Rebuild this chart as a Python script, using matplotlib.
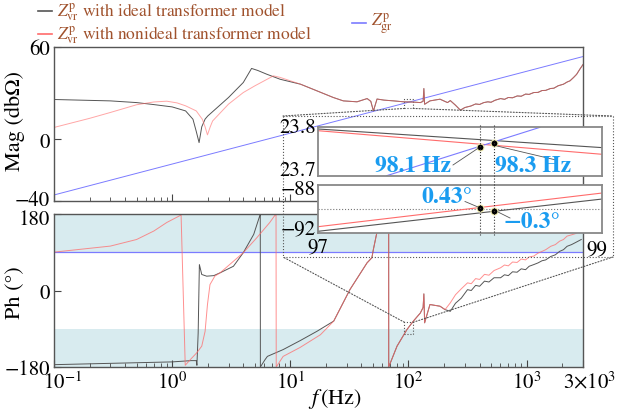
import matplotlib
matplotlib.use("Agg")
import matplotlib.pyplot as plt
import matplotlib.transforms as mtransforms
from matplotlib.patches import Rectangle, ConnectionPatch
from matplotlib.lines import Line2D

plt.rcParams['font.family'] = ['STIXGeneral', 'Liberation Serif', 'DejaVu Serif']
plt.rcParams['mathtext.fontset'] = 'stix'
plt.rcParams['axes.unicode_minus'] = True

W, H = 618, 414

# ---- magnitude, Zvr with ideal transformer (black) ----
f_mag_ideal = [0.1, 0.3, 0.5, 0.7, 1.0, 1.3, 1.5, 1.6, 1.69, 1.78, 1.9, 2.0, 3.0, 4.0, 4.7,
               5.3, 6.3, 8.2, 12.2, 16.8, 23.1, 28.1, 36.7, 44.7, 48, 50.5, 54.2, 62, 75, 91,
               111, 126, 133, 135, 137, 152, 185, 214, 226, 250, 275]
mag_ideal = [25.7, 24.8, 23.7, 22.4, 20.9, 18.3, 12.9, 5.0, -2.2, 8.0, 13.0, 15.0, 27.0, 36.7, 45.8,
             44.5, 42.1, 38.8, 35.6, 31.3, 27.0, 24.8, 24.2, 26.3, 24.5, 18.3, 26.0, 25.3, 24.8, 24.2,
             24.0, 23.7, 24.5, 32.8, 22.6, 24.8, 25.9, 23.7, 25.0, 22.0, 18.8]

# ---- magnitude, Zvr with nonideal transformer (red) ----
f_mag_non = [0.1, 0.2, 0.3, 0.5, 0.7, 0.9, 1.1, 1.3, 1.6, 1.8, 1.9, 1.99, 2.1, 2.2, 3.0, 4.0,
             5.0, 7.2, 8.2, 12.2, 16.8, 23.1, 28.1, 36.7, 44.7, 48, 50.5, 54.2, 62, 75, 91,
             111, 126, 133, 135, 137, 152, 185, 214, 226, 250, 275]
mag_non = [7.6, 13.5, 17.3, 22.3, 24.1, 24.6, 23.5, 21.6, 18.3, 12.9, 8.0, 2.8, 8.0, 11.8, 22.7, 30.2,
           34.5, 41.0, 40.0, 35.6, 31.3, 27.0, 24.8, 24.2, 26.3, 24.5, 18.3, 26.0, 25.3, 24.8, 24.2,
           24.0, 23.7, 24.5, 32.8, 22.6, 24.8, 25.9, 23.7, 25.0, 22.0, 18.8]

# common high-frequency tail (both curves overlap)
f_mag_tail = [300, 338, 370, 400, 434, 470, 500, 540, 602, 650, 700, 760, 833, 900, 980, 1050,
              1150, 1250, 1350, 1450, 1590, 1700, 1850, 2050, 2200, 2330, 2500, 2650, 2820, 3000]
mag_tail = [20.5, 21.5, 22.8, 22.5, 23.7, 24.2, 23.9, 25.2, 26.3, 25.8, 27.0, 26.8, 28.0, 27.8,
            29.2, 29.0, 30.2, 30.3, 31.5, 31.6, 32.8, 33.0, 34.6, 35.6, 37.0, 37.8, 40.0, 42.0,
            45.3, 48.3]

# ---- grid impedance Zgr (blue) ----
f_gr = [0.1, 3000]
mag_gr = [-36.1, 53.5]
ph_gr = [90, 90]

# ---- phase, ideal (black) ----
f_ph_ideal = [0.1, 1.0, 1.45, 1.6, 1.62, 1.66, 1.70, 1.78, 1.96, 2.25, 2.55, 3.3, 4.0, 4.9, 5.5,
              5.57, 5.58, 6.1, 6.4, 8.7, 12.1, 16.8, 23.3, 32, 44.6, 49, 50.5, 54, 57, 58.5, 68,
              68.05, 80, 97, 110, 126, 133, 135, 137, 152, 185, 204, 226, 250, 280, 316, 340,
              370, 400, 440, 480, 530, 602, 650, 700, 760, 830, 900, 980, 1050, 1150, 1250,
              1350, 1450, 1600, 1750, 1900, 2050, 2200, 2400, 2600, 2900]
ph_ideal = [-174.5, -168, -165, -165, -176, -100, 61, 37.7, 33.7, 35, 41.7, 57, 89, 132, 175,
            178, -180, -163, -155, -139, -118, -96, -72, 2.4, 65, 77, 97, 136, 140, 136, 179,
            -180, -131, -92, -72, -53, -40, -8, -76, -33, -37, -45, -49, -30, -18, 2, 0,
            12, 10, 22, 20, 30, 30, 37, 35, 44, 43, 51, 49, 57, 61, 65,
            70, 72, 80, 84, 92, 96, 104, 108, 113, 120]

# ---- phase, nonideal (red) ----
f_ph_non = [0.1, 0.3, 0.5, 0.7, 0.9, 1.19, 1.29, 1.42, 1.61, 1.78, 1.9, 1.99, 2.09, 2.3, 2.55,
            4.0, 5.2, 6.7, 7.5, 7.57, 7.6, 8.7, 12.1, 18, 23.3, 32, 44.6, 49, 50.5, 54, 57, 58.5,
            68, 68.05, 80, 97, 110, 126, 133, 135, 137, 152, 185, 204, 226, 250, 280, 316, 340,
            370, 400, 440, 480, 530, 602, 650, 700, 760, 830, 900, 980, 1050, 1150, 1250,
            1350, 1450, 1600, 1750, 1900, 2050, 2200, 2400, 2600, 2820, 3000]
ph_non = [90.3, 104.5, 120, 140, 160, 177.6, -176, -163, -147, -131, -96, -33, 14, 34, 41.7,
          89, 124, 160, 179, 180, -180, -155, -134, -104, -72, 2.4, 65, 77, 97, 136, 140, 136,
          179, -180, -131, -92, -72, -53, -40, -8, -76, -33, -37, -45, -29, -10, 4, 18, 16,
          28, 26, 38, 36, 47, 53.5, 60, 58, 67, 66, 74, 72, 79, 81, 88,
          92, 96, 104, 108, 116, 120, 128, 131, 134, 140, 150]

# ---- zoomed insets around 98 Hz ----
f_in = [97, 99]
in_mag_ideal = [23.7965, 23.758]
in_mag_non = [23.793, 23.7442]
f_in_gr = [97.483, 98.562]
in_mag_gr = [23.70, 23.80]
in_ph_ideal = [-91.858, -89.167]
in_ph_non = [-91.475, -88.667]
cross_f = [98.142, 98.24]
cross_mag = [23.760, 23.7676]
cross_ph = [-89.89, -90.19]

c_black = '#555555'
c_red = '#ff6b6b'
c_blue = '#7b7bff'
c_note = '#1a9cf0'
c_leg = '#a0522d'
band = '#d8ebef'


def fx(px):
    return px / W


def fy(py):
    return 1 - py / H


def nudge(label, dx, dy):
    # shift a tick label by (dx, dy) pixels
    off = mtransforms.ScaledTranslation(dx / 100, -dy / 100, fig.dpi_scale_trans)
    label.set_transform(label.get_transform() + off)


fig = plt.figure(figsize=(6.18, 4.14), dpi=100)
ax1 = fig.add_axes([fx(54), fy(202), (583 - 54) / W, (202 - 47.5) / H])
ax2 = fig.add_axes([fx(54), fy(368), (583 - 54) / W, (368 - 215) / H])

for ax in (ax1, ax2):
    ax.set_xscale('log')
    ax.set_xlim(0.1, 3000)
    ax.tick_params(which='both', direction='in', top=False, right=False, labelsize=15,
                   color='#444444', pad=3)
    ax.tick_params(which='major', length=5)
    ax.tick_params(which='minor', length=3)
    for s in ax.spines.values():
        s.set_color('#555555')
        s.set_linewidth(1.0)

# magnitude
ax1.plot(f_gr, mag_gr, color=c_blue, lw=0.7)
ax1.plot(f_mag_ideal + f_mag_tail, mag_ideal + mag_tail, color=c_black, lw=0.7)
ax1.plot(f_mag_non + f_mag_tail, mag_non + mag_tail, color=c_red, lw=0.7, alpha=0.6)
ax1.set_ylim(-40, 60)
ax1.set_yticks([-40, 0, 60])
ax1.tick_params(axis='x', which='both', labelbottom=False)

# phase
ax2.axhspan(90, 180, color=band, lw=0)
ax2.axhspan(-180, -90, color=band, lw=0)
ax2.plot(f_gr, ph_gr, color=c_blue, lw=0.9)
ax2.plot(f_ph_ideal, ph_ideal, color=c_black, lw=0.7)
ax2.plot(f_ph_non, ph_non, color=c_red, lw=0.7, alpha=0.75)
ax2.set_ylim(-180, 180)
ax2.set_yticks([-180, 0, 180])
ax2.set_xticks([0.1, 1, 10, 100, 1000, 3000])
ax2.set_xticklabels([r'$10^{-1}$', r'$10^{0}$', r'$10^{1}$', r'$10^{2}$', r'$10^{3}$',
                     r'$3{\times}10^{3}$'])

xl = ax2.get_xticklabels()
nudge(xl[0], 9, 0)
nudge(xl[-1], 7, 0)
nudge(ax1.get_yticklabels()[0], 0, -3)
nudge(ax2.get_yticklabels()[-1], 0, 3)

# small dotted boxes at the zoom location
for ax, y0, y1 in ((ax1, 19.9, 25.9), (ax2, -102, -74.8)):
    ax.add_patch(Rectangle((92.5, y0), 109.6 - 92.5, y1 - y0, fill=False, ls=':',
                           lw=0.8, ec='#555555'))

# big dotted frame around the insets + connector lines
bx0, bx1, by0, by1 = 283, 613, 117, 258
for xs, ys in (([bx0, bx1], [by0, by0]), ([bx0, bx1], [by1, by1]),
               ([bx0, bx0], [by0, by1]), ([bx1, bx1], [by0, by1])):
    fig.add_artist(Line2D([fx(v) for v in xs], [fy(v) for v in ys], ls=':', lw=0.8,
                          color='#555555', zorder=3))
for ax, fa, ya, xb, yb in ((ax1, 92.5, 19.9, bx0, by0), (ax1, 109.6, 19.9, bx1, by0),
                           (ax2, 92.5, -74.8, bx0, by1), (ax2, 109.6, -74.8, bx1, by1)):
    fig.add_artist(ConnectionPatch(xyA=(fa, ya), coordsA=ax.transData,
                                   xyB=(fx(xb), fy(yb)), coordsB='figure fraction',
                                   ls=':', lw=0.8, color='#555555', zorder=3))

# insets
axm = fig.add_axes([fx(318), fy(176.7), (602.3 - 318) / W, (176.7 - 128.3) / H], zorder=5)
axp = fig.add_axes([fx(318), fy(234), (602.3 - 318) / W, (234 - 186) / H], zorder=5)
for ax in (axm, axp):
    ax.set_xlim(97, 99)
    ax.set_xticks([])
    ax.set_yticks([])
    ax.set_facecolor('white')
    for s in ax.spines.values():
        s.set_color('#888888')
        s.set_linewidth(1.3)

axm.set_ylim(23.7, 23.8)
axm.plot(f_in, in_mag_ideal, color=c_black, lw=0.8)
axm.plot(f_in, in_mag_non, color=c_red, lw=0.8)
axm.plot(f_in_gr, in_mag_gr, color=c_blue, lw=0.8)
axm.plot(cross_f, cross_mag, 'o', ms=5, color='black', mec='#f3eeb0', mew=0.8, zorder=6)

axp.set_ylim(-92, -88)
axp.axhline(-90, color='#777777', ls=':', lw=0.8)
axp.plot(f_in, in_ph_ideal, color=c_black, lw=0.8)
axp.plot(f_in, in_ph_non, color=c_red, lw=0.8)
axp.plot(cross_f, cross_ph, 'o', ms=5, color='black', mec='#f3eeb0', mew=0.8, zorder=6)

# vertical dotted markers through both insets
for xp in (480.3, 494.3):
    fig.add_artist(Line2D([fx(xp), fx(xp)], [fy(126), fy(236)], ls=':', lw=0.8,
                          color='#333333', zorder=10))

# annotations
notes = [('98.1 Hz', 413, 166, 453, 166, 478, 149.3),
         ('98.3 Hz', 533, 166, 556, 161, 497, 147),
         ('0.43°', 447, 198, 465, 202.5, 478, 208),
         ('−0.3°', 532, 223, 510, 219, 498, 213)]
for txt, tx, ty, lx0, ly0, lx1, ly1 in notes:
    fig.text(fx(tx), fy(ty), txt, color=c_note, fontsize=17, fontweight='bold',
             ha='center', va='center', zorder=12)
    fig.add_artist(Line2D([fx(lx0), fx(lx1)], [fy(ly0), fy(ly1)], lw=0.6,
                          color='#555555', zorder=11))

# inset tick labels
for txt, tx, ty, ha in (('23.8', 316, 128, 'right'), ('23.7', 316, 171, 'right'),
                        ('−88', 316, 190, 'right'), ('−92', 316, 230, 'right'),
                        ('97', 318, 248, 'center'), ('99', 597, 250, 'center')):
    fig.text(fx(tx), fy(ty), txt, fontsize=15, ha=ha, va='center', zorder=12)

# axis labels
fig.text(fx(15), fy(121), 'Mag (dbΩ)', rotation=90, fontsize=16, ha='center', va='center')
fig.text(fx(15), fy(293), 'Ph (°)', rotation=90, fontsize=16, ha='center', va='center')
fig.text(fx(335), fy(399), r'$f\,$(Hz)', fontsize=16, ha='center', va='center')

# legend
leg = [(38, 12, c_black, r'$Z_{\rm vr}^{\rm p}$ with ideal transformer model'),
       (38, 35, c_red, r'$Z_{\rm vr}^{\rm p}$ with nonideal transformer model'),
       (352, 24, c_blue, r'$Z_{\rm gr}^{\rm p}$')]
for lx, ly, col, txt in leg:
    fig.add_artist(Line2D([fx(lx), fx(lx + 14)], [fy(ly), fy(ly)], color=col, lw=1.2))
    fig.text(fx(lx + 19), fy(ly), txt, color=c_leg, fontsize=12.5, ha='left', va='center')

fig.savefig('out.png', dpi=100)
